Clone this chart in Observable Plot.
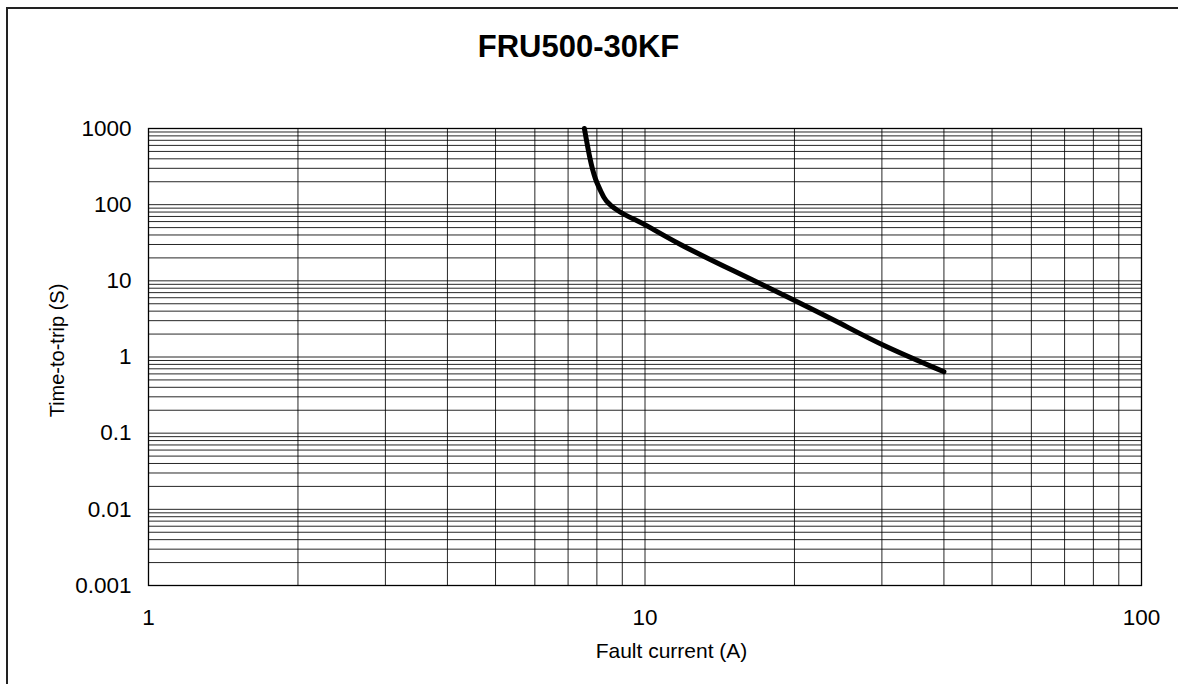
<!DOCTYPE html>
<html>
<head>
<meta charset="utf-8">
<script src="https://cdn.jsdelivr.net/npm/d3@7"></script>
<script src="https://cdn.jsdelivr.net/npm/@observablehq/plot@0.6"></script>
<style>
  html, body { margin: 0; padding: 0; background: #fff; overflow: hidden; }
  #wrap { position: relative; width: 1178px; height: 684px; overflow: hidden; background: #fff; }
  #hline { position: absolute; left: 6px; top: 7px; width: 1172px; height: 2px; background: #222; }
  #vline { position: absolute; left: 6px; top: 7px; width: 2px; height: 677px; background: #222; }
  #chart { position: absolute; left: 0; top: 0; }
</style>
</head>
<body>
<div id="wrap"><div id="hline"></div><div id="vline"></div><div id="chart"></div></div>
<script>
// Chart data
const title = "FRU500-30KF";
const xLabel = "Fault current (A)";
const yLabel = "Time-to-trip (S)";
const currentA = [7.55, 7.75, 7.95, 8.14, 8.3, 8.8, 9.6, 10, 11.6, 15, 20, 25, 30, 40];
const tripTimeS = [1000, 380, 208, 153, 113, 82, 62, 55, 31, 13.7, 5.6, 2.68, 1.42, 0.64];
const xTicks = [1, 10, 100];
const yTicks = [0.001, 0.01, 0.1, 1, 10, 100, 1000];
const gridMultipliers = [1, 2, 3, 4, 5, 6, 7, 8, 9];

const curve = currentA.map((x, i) => ({x, y: tripTimeS[i]}));
const xGrid = xTicks.flatMap(d => gridMultipliers.map(m => d * m)).filter(v => v <= 100);
const yGrid = yTicks.flatMap(d => gridMultipliers.map(m => d * m)).filter(v => v <= 1000);

const font = "'Liberation Sans', Arial, sans-serif";

const chart = Plot.plot({
  width: 1178,
  height: 684,
  marginLeft: 148,
  marginRight: 37,
  marginTop: 128,
  marginBottom: 99,
  style: {fontFamily: font, background: "transparent", color: "#000"},
  x: {type: "log", domain: [1, 100]},
  y: {type: "log", domain: [0.001, 1000]},
  marks: [
    Plot.ruleX(xGrid, {x: d => d, stroke: "#000", strokeWidth: 1, strokeOpacity: 0.85}),
    Plot.ruleY(yGrid, {y: d => d, stroke: "#000", strokeWidth: 1, strokeOpacity: 0.85}),
    Plot.frame({stroke: "#000", strokeWidth: 1.3}),
    Plot.axisX(xTicks, {tickSize: 0, tickPadding: 24, fontSize: 22.5, tickFormat: d => String(d), label: null}),
    Plot.axisY(yTicks, {tickSize: 0, tickPadding: 17, fontSize: 22.5, tickFormat: d => String(d), label: null}),
    Plot.line(curve, {x: "x", y: "y", stroke: "#000", strokeWidth: 5, curve: "basis", strokeLinejoin: "round"}),
    Plot.text([xLabel], {frameAnchor: "bottom", lineAnchor: "middle", textAnchor: "middle", dx: 26.5, dy: 66, text: d => d, fontSize: 21}),
    Plot.text([yLabel], {frameAnchor: "left", lineAnchor: "middle", textAnchor: "middle", dx: -91, dy: -6.5, rotate: -90, text: d => d, fontSize: 20}),
    Plot.text([title], {frameAnchor: "top", lineAnchor: "middle", textAnchor: "middle", dx: -66.5, dy: -81, text: d => d, fontSize: 31, fontWeight: "bold"})
  ]
});
document.getElementById("chart").appendChild(chart);
</script>
</body>
</html>
